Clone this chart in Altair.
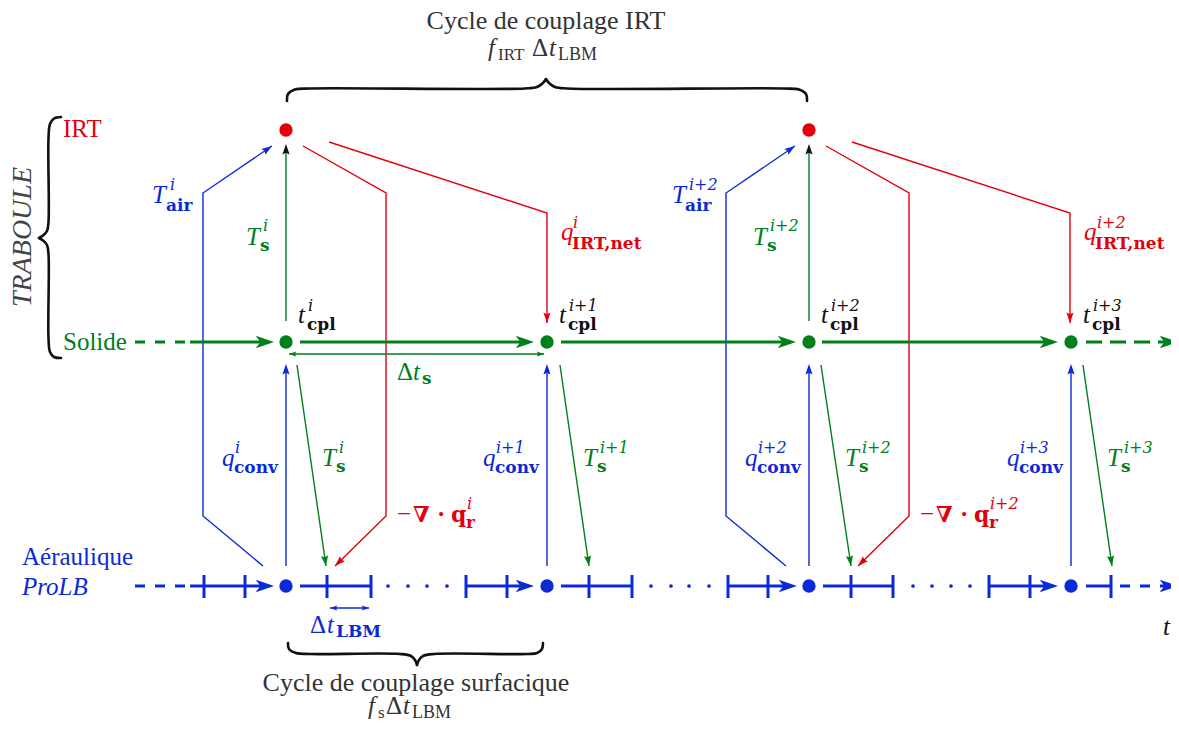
import math
import altair as alt
import pandas as pd

# ---------------- colours / fonts ----------------
RED = "#e3000b"
GREEN = "#00801a"
BLUE = "#0b2ad6"
INK = "#111111"
GREY = "#333333"
SERIF = "Liberation Serif"
WIDE = "DejaVu Serif"

# ---------------- diagram geometry (reference pixel frame) ----------------
node_x = [286, 547, 809, 1071]          # coupling instants t_cpl^i ... t_cpl^{i+3}
irt_x = [286, 809]                       # IRT instants
y_irt, y_sol, y_air = 130, 342, 586      # rows

blue_air_paths = [[(263, 566), (203, 516), (203, 193), (272, 146)],
                  [(786, 566), (726, 516), (726, 193), (795, 146)]]
red_div_paths = [[(303, 146), (386, 193), (386, 516), (335, 566)],
                 [(826, 146), (909, 193), (909, 516), (858, 566)]]
red_net_paths = [[(329, 142), (547, 213), (547, 323)],
                 [(852, 142), (1070, 213), (1070, 323)]]

green_up = [(286, 321, 286, 150), (809, 321, 809, 150)]
blue_up = [(286, 566, 286, 368), (547, 566, 547, 368), (809, 566, 809, 368), (1071, 566, 1071, 368)]
green_diag = [(297, 365, 326, 566), (560, 365, 589, 566), (821, 365, 851, 566), (1083, 365, 1112, 566)]
dt_s_arrow = (289, 354, 544, 354)
dt_lbm_arrow = (330, 608, 369, 608)

green_solid = [(190, 264), (300, 524), (561, 786), (822, 1048)]
green_tips = [274, 534, 796, 1058, 1178]
blue_solid = [(190, 264), (300, 371), (466, 524), (561, 632), (728, 787), (823, 893), (989, 1048), (1086, 1111)]
blue_tips = [274, 534, 797, 1058, 1178]
blue_ticks = [204, 245, 327, 371, 466, 507, 589, 632, 728, 768, 851, 893, 989, 1030, 1111]
blue_dots = [388, 408, 427, 447, 651, 671, 689, 709, 913, 932, 951, 970]
left_dash = (135, 190)
green_right_dash = (1086, 1166)
blue_right_dash = (1120, 1166)

brace_top = [[(287, 101), (288, 94), (295, 89.5), (310, 88.5), (525, 88.5), (537, 87), (543, 83), (546, 79)],
             [(546, 79), (549, 83), (555, 87), (567, 88.5), (783, 88.5), (799, 89.5), (806, 94), (807, 101)]]
brace_bot = [[(288, 643), (289, 649), (296, 653), (310, 654), (400, 654), (411, 656), (415, 660), (417, 665)],
             [(417, 665), (419, 660), (423, 656), (434, 654), (528, 654), (537, 653), (542, 649), (543, 643)]]
brace_left = [[(61, 117), (54, 118.5), (50, 124), (48.5, 138), (48.5, 222), (47, 231), (43, 235.5), (39, 238)],
              [(39, 238), (43, 240.5), (47, 245), (48.5, 254), (48.5, 338), (50, 352), (54, 357), (61, 358)]]

# ---------------- build tables ----------------
poly_rows = []
pid = 0
for col, paths in ((BLUE, blue_air_paths), (RED, red_div_paths), (RED, red_net_paths)):
    for pts in paths:
        for k, (x, y) in enumerate(pts):
            poly_rows.append(dict(pid=pid, o=k, x=x, y=y, c=col))
        pid += 1
poly_df = pd.DataFrame(poly_rows)

brace_rows = []
bid = 0
for b in (brace_top, brace_bot, brace_left):
    for half in b:
        for k, (x, y) in enumerate(half):
            brace_rows.append(dict(pid=bid, o=k, x=x, y=y))
        bid += 1
brace_df = pd.DataFrame(brace_rows)

thin_rows = []
for seg in green_up + green_diag:
    thin_rows.append(dict(x=seg[0], y=seg[1], x2=seg[2], y2=seg[3], c=GREEN))
for seg in blue_up:
    thin_rows.append(dict(x=seg[0], y=seg[1], x2=seg[2], y2=seg[3], c=BLUE))
thin_rows.append(dict(x=dt_s_arrow[0], y=dt_s_arrow[1], x2=dt_s_arrow[2], y2=dt_s_arrow[3], c=GREEN))
thin_rows.append(dict(x=dt_lbm_arrow[0], y=dt_lbm_arrow[1], x2=dt_lbm_arrow[2], y2=dt_lbm_arrow[3], c=BLUE))
thin_df = pd.DataFrame(thin_rows)

thick_rows = []
for a, b in green_solid:
    thick_rows.append(dict(x=a, x2=b, y=y_sol, y2=y_sol, c=GREEN))
for a, b in blue_solid:
    thick_rows.append(dict(x=a, x2=b, y=y_air, y2=y_air, c=BLUE))
for t in blue_ticks:
    thick_rows.append(dict(x=t, x2=t, y=y_air - 11, y2=y_air + 12, c=BLUE))
thick_df = pd.DataFrame(thick_rows)

dash_a_df = pd.DataFrame([
    dict(x=left_dash[0], x2=left_dash[1], y=y_sol, y2=y_sol, c=GREEN),
    dict(x=left_dash[0], x2=left_dash[1], y=y_air, y2=y_air, c=BLUE),
    dict(x=blue_right_dash[0], x2=blue_right_dash[1], y=y_air, y2=y_air, c=BLUE),
])
dash_b_df = pd.DataFrame([
    dict(x=green_right_dash[0], x2=green_right_dash[1], y=y_sol, y2=y_sol, c=GREEN),
])


def ang(dx, dy):
    return math.degrees(math.atan2(dx, -dy)) % 360


big_rows, small_rows, tiny_rows = [], [], []
for t in green_tips:
    big_rows.append(dict(x=t, y=y_sol, a=90, c=GREEN))
for t in blue_tips:
    big_rows.append(dict(x=t, y=y_air, a=90, c=BLUE))
for col, paths in ((BLUE, blue_air_paths), (RED, red_div_paths), (RED, red_net_paths)):
    for pts in paths:
        (x1, y1), (x2, y2) = pts[-2], pts[-1]
        small_rows.append(dict(x=x2, y=y2, a=ang(x2 - x1, y2 - y1), c=col))
for x in irt_x:
    small_rows.append(dict(x=x, y=144, a=0, c=INK))
for seg in blue_up:
    small_rows.append(dict(x=seg[2], y=seg[3] - 4, a=0, c=BLUE))
for seg in green_diag:
    small_rows.append(dict(x=seg[2], y=seg[3], a=ang(seg[2] - seg[0], seg[3] - seg[1]), c=GREEN))
for seg, col in ((dt_s_arrow, GREEN), (dt_lbm_arrow, BLUE)):
    tiny_rows.append(dict(x=seg[0], y=seg[1], a=270, c=col))
    tiny_rows.append(dict(x=seg[2], y=seg[3], a=90, c=col))
big_df, small_df, tiny_df = pd.DataFrame(big_rows), pd.DataFrame(small_rows), pd.DataFrame(tiny_rows)

dot_rows = [dict(x=x, y=y_irt, c=RED) for x in irt_x]
dot_rows += [dict(x=x, y=y_sol, c=GREEN) for x in node_x]
dot_rows += [dict(x=x, y=y_air, c=BLUE) for x in node_x]
dot_df = pd.DataFrame(dot_rows)
sdot_df = pd.DataFrame([dict(x=x, y=y_air, c=BLUE) for x in blue_dots])

# ---------------- texts ----------------
M, S, SUP = 25, 17, 16
texts = []


def tx(t, x, y, c, s=M, st="normal", wt="normal", al="left", a=0, f=SERIF):
    texts.append(dict(t=t, x=x, y=y, c=c, s=s, st=st, wt=wt, al=al, a=a, f=f))


def sym(main, sup, sub, x, y, c, sx, sy_sup, bx, by_sub):
    tx(main, x, y, c, M, "italic")
    tx(sup, sx, sy_sup, c, SUP, "italic", f=WIDE)
    tx(sub, bx, by_sub, c, S, "normal", "bold", f=WIDE)


# titles
tx("Cycle de couplage IRT", 546, 29, GREY, s=26, al="center")
tx("f", 488, 56, GREY, st="italic"); tx("IRT", 498, 60, GREY, s=S)
tx("Δ", 532, 56, GREY); tx("t", 549, 56, GREY, st="italic"); tx("LBM", 558, 60, GREY, s=18)
tx("Cycle de couplage surfacique", 416, 691, GREY, s=26, al="center")
tx("f", 368, 714, GREY, st="italic"); tx("s", 378, 718, GREY, s=S)
tx("Δ", 386, 714, GREY); tx("t", 403, 714, GREY, st="italic"); tx("LBM", 412, 718, GREY, s=18)

# row labels
tx("IRT", 63, 137, RED)
tx("Solide", 63, 350, GREEN)
tx("Aéraulique", 22, 565, BLUE)
tx("ProLB", 22, 595, BLUE, st="italic")
tx("TRABOULE", 31, 237, "#444444", s=28, st="italic", al="center", a=270)
tx("t", 1163, 635, INK, st="italic")

# upper labels
sym("T", "i", "air", 152, 203, BLUE, 170, 190, 166, 211)
sym("T", "i+2", "air", 672, 203, BLUE, 689, 190, 685, 211)
sym("T", "i", "s", 246, 245, GREEN, 263, 231, 260, 251)
sym("T", "i+2", "s", 753, 245, GREEN, 770, 231, 767, 251)
sym("q", "i", "IRT,net", 561, 240, RED, 573, 228, 572, 249)
sym("q", "i+2", "IRT,net", 1084, 240, RED, 1097, 228, 1095, 249)
for x, sup in zip(node_x, ["i", "i+1", "i+2", "i+3"]):
    sym("t", sup, "cpl", x + 12, 323, INK, x + 22, 311, x + 21, 330)

# lower labels
for x, sup in zip(node_x, ["i", "i+1", "i+2", "i+3"]):
    sym("q", sup, "conv", x - 64, 466, BLUE, x - 51, 453, x - 52, 473)
    sym("T", sup, "s", x + 36, 466, GREEN, x + 53, 453, x + 50, 472)
for x0, sup in ((386, "i"), (909, "i+2")):
    tx("−", x0 + 11, 522, RED)
    tx("∇", x0 + 27, 522, RED, wt="bold", f=WIDE, s=22)
    tx("·", x0 + 51, 522, RED, wt="bold")
    tx("q", x0 + 65, 522, RED, wt="bold", f=WIDE, s=22)
    tx(sup, x0 + 81, 509, RED, s=SUP, st="italic", f=WIDE)
    tx("r", x0 + 80, 528, RED, s=S, wt="bold", f=WIDE)

# delta t labels
tx("Δ", 397, 380, GREEN); tx("t", 413, 380, GREEN, st="italic"); tx("s", 422, 384, GREEN, s=S, wt="bold", f=WIDE)
tx("Δ", 310, 633, BLUE); tx("t", 327, 633, BLUE, st="italic"); tx("LBM", 336, 637, BLUE, s=S, wt="bold", f=WIDE)

text_df = pd.DataFrame(texts)

# ---------------- chart ----------------
XS = alt.Scale(domain=[8, 1171], nice=False, zero=False)
YS = alt.Scale(domain=[8, 722], nice=False, zero=False, reverse=True)


def X(f="x"):
    return alt.X(f"{f}:Q", scale=XS, axis=None)


def Y(f="y"):
    return alt.Y(f"{f}:Q", scale=YS, axis=None)


COL = alt.Color("c:N", scale=None)

layers = []
layers.append(alt.Chart(poly_df).mark_line(strokeWidth=1.4, strokeJoin="miter").encode(
    x=X(), y=Y(), detail="pid:N", order="o:Q", color=COL))
layers.append(alt.Chart(thin_df).mark_rule(strokeWidth=1.4).encode(
    x=X(), y=Y(), x2="x2:Q", y2="y2:Q", color=COL))
layers.append(alt.Chart(thick_df).mark_rule(strokeWidth=3).encode(
    x=X(), y=Y(), x2="x2:Q", y2="y2:Q", color=COL))
layers.append(alt.Chart(dash_a_df).mark_rule(strokeWidth=3, strokeDash=[10, 10]).encode(
    x=X(), y=Y(), x2="x2:Q", y2="y2:Q", color=COL))
layers.append(alt.Chart(dash_b_df).mark_rule(strokeWidth=3, strokeDash=[16, 8]).encode(
    x=X(), y=Y(), x2="x2:Q", y2="y2:Q", color=COL))
layers.append(alt.Chart(brace_df).mark_line(strokeWidth=2.6, color=INK, interpolate="catmull-rom",
                                            strokeCap="round").encode(
    x=X(), y=Y(), detail="pid:N", order="o:Q"))

STEALTH = "M0,0 L0.55,1.6 L0,1.2 L-0.55,1.6 Z"
LATEX = "M0,0 L0.55,1.6 L0,1.35 L-0.55,1.6 Z"
for df, shape, size in ((big_df, STEALTH, 520), (small_df, LATEX, 170), (tiny_df, LATEX, 80)):
    layers.append(alt.Chart(df).mark_point(shape=shape, filled=True, size=size, opacity=1, strokeWidth=0).encode(
        x=X(), y=Y(), color=COL, angle=alt.Angle("a:Q", scale=None)))

layers.append(alt.Chart(dot_df).mark_point(shape="circle", filled=True, size=177, opacity=1, strokeWidth=0).encode(
    x=X(), y=Y(), color=COL))
layers.append(alt.Chart(sdot_df).mark_point(shape="circle", filled=True, size=14, opacity=1, strokeWidth=0).encode(
    x=X(), y=Y(), color=COL))

for (f, st, wt, al, a), sub in text_df.groupby(["f", "st", "wt", "al", "a"]):
    layers.append(alt.Chart(sub).mark_text(font=f, fontStyle=st, fontWeight=wt, align=al,
                                           baseline="alphabetic", angle=float(a)).encode(
        x=X(), y=Y(), text="t:N", color=COL, size=alt.Size("s:Q", scale=None)))

chart = alt.layer(*layers).properties(
    width=1163, height=714, padding=0, autosize=alt.AutoSizeParams(type="none"),
    background="white",
).configure_view(stroke=None)

chart.save("out.html", embed_options={"renderer": "svg", "actions": False})
